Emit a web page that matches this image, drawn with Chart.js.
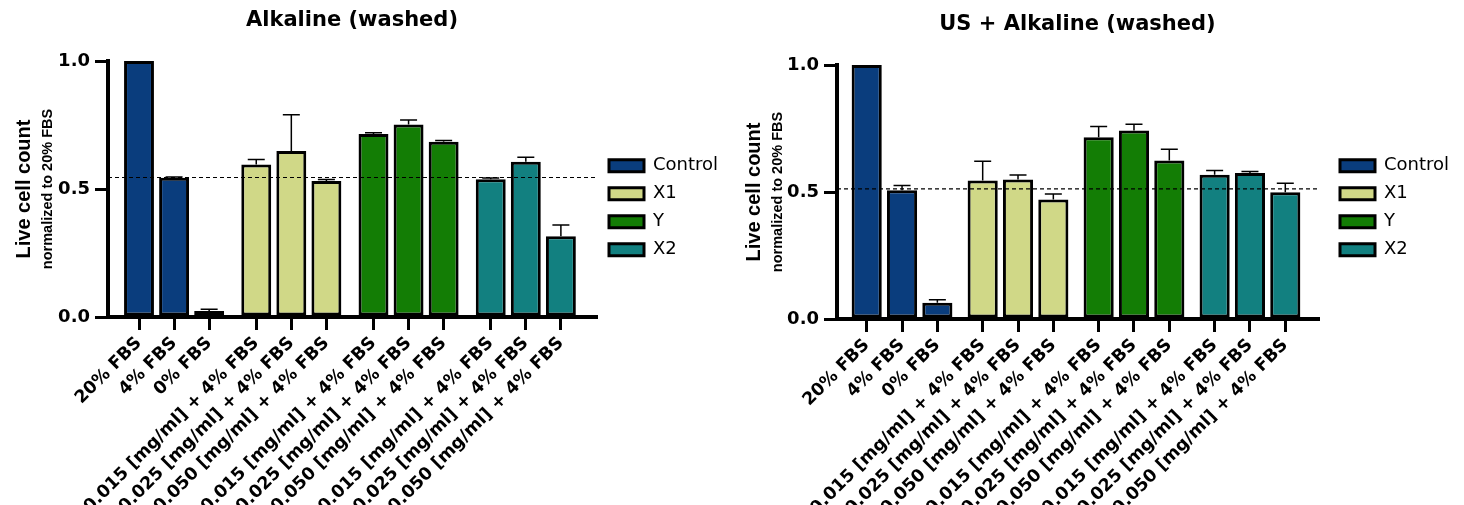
<!DOCTYPE html>
<html>
<head>
<meta charset="utf-8">
<script src="https://cdn.jsdelivr.net/npm/chart.js@4.4.1/dist/chart.umd.min.js"></script>
<style>
  html, body { margin: 0; padding: 0; background: #fff; width: 1464px; height: 505px; overflow: hidden; }
  canvas { position: absolute; top: 0; }
</style>
</head>
<body>
<canvas id="chartA" width="724" height="505" style="left:0px"></canvas>
<canvas id="chartB" width="723" height="505" style="left:732px"></canvas>
<script>
// ---------------- DATA ----------------
const categories = [
  '20% FBS', '4% FBS', '0% FBS',
  '0.015 [mg/ml] + 4% FBS', '0.025 [mg/ml] + 4% FBS', '0.050 [mg/ml] + 4% FBS',
  '0.015 [mg/ml] + 4% FBS', '0.025 [mg/ml] + 4% FBS', '0.050 [mg/ml] + 4% FBS',
  '0.015 [mg/ml] + 4% FBS', '0.025 [mg/ml] + 4% FBS', '0.050 [mg/ml] + 4% FBS'
];
const groups = ['Control', 'X1', 'Y', 'X2'];
const yTicks = [0, 0.5, 1.0];

// Chart A: Alkaline (washed)
const titleA = 'Alkaline (washed)';
const alkControl = [1.000, 0.544, 0.023];
const alkX1      = [0.596, 0.648, 0.531];
const alkY       = [0.715, 0.752, 0.685];
const alkX2      = [0.538, 0.606, 0.315];
const alkControlErr = [0.000, 0.003, 0.007];
const alkX1Err      = [0.019, 0.142, 0.006];
const alkYErr       = [0.005, 0.018, 0.004];
const alkX2Err      = [0.005, 0.018, 0.044];
const alkRef = 0.545;

// Chart B: US + Alkaline (washed)
const titleB = 'US + Alkaline (washed)';
const usControl = [1.000, 0.507, 0.064];
const usX1      = [0.545, 0.549, 0.470];
const usY       = [0.716, 0.742, 0.624];
const usX2      = [0.568, 0.575, 0.499];
const usControlErr = [0.000, 0.019, 0.012];
const usX1Err      = [0.076, 0.018, 0.022];
const usYErr       = [0.042, 0.025, 0.044];
const usX2Err      = [0.017, 0.006, 0.035];
const usRef = 0.512;

const yTitleMain = 'Live cell count';
const yTitleSub = 'normalized to 20% FBS';

// ---------------- STYLE ----------------
const COLORS = ['#0a3d7d', '#d0d887', '#137d05', '#128080'];
const DJ = "'DejaVu Sans', sans-serif";
const LIB = "'Liberation Sans', Arial, sans-serif";

const errorBarsPlugin = {
  id: 'errorBars',
  afterDatasetsDraw(chart) {
    const { ctx, scales: { x, y } } = chart;
    ctx.save();
    ctx.strokeStyle = '#000';
    ctx.lineWidth = 1.5;
    chart.data.datasets.forEach(ds => {
      ds.data.forEach((p, j) => {
        const e = ds.errValues[j];
        if (!e) return;
        const px = x.getPixelForValue(p.x);
        const y0 = y.getPixelForValue(p.y);
        const y1 = y.getPixelForValue(p.y + e);
        ctx.beginPath();
        ctx.moveTo(px, y0);
        ctx.lineTo(px, y1);
        ctx.moveTo(px - 8.5, y1);
        ctx.lineTo(px + 8.5, y1);
        ctx.stroke();
      });
    });
    ctx.restore();
  }
};

const refLinePlugin = {
  id: 'refLine',
  afterDatasetsDraw(chart, args, opts) {
    const { ctx, chartArea, scales: { y } } = chart;
    const py = y.getPixelForValue(opts.value);
    ctx.save();
    ctx.setLineDash([4, 3]);
    ctx.lineWidth = 1.2;
    ctx.strokeStyle = '#000';
    ctx.beginPath();
    ctx.moveTo(chartArea.left, py);
    ctx.lineTo(chartArea.right, py);
    ctx.stroke();
    ctx.restore();
  }
};

function makeChart(id, cfg) {
  const positions = [];
  cfg.values.forEach((vals, gi) => vals.forEach((v, i) => positions.push(gi * cfg.stride + i)));
  const datasets = groups.map((name, gi) => ({
    label: name,
    data: cfg.values[gi].map((v, i) => ({ x: gi * cfg.stride + i, y: v })),
    errValues: cfg.errors[gi],
    backgroundColor: COLORS[gi],
    borderColor: '#000',
    borderWidth: 3,
    borderSkipped: false,
    grouped: false,
    categoryPercentage: 1,
    barPercentage: 0.853
  }));

  return new Chart(document.getElementById(id), {
    type: 'bar',
    data: { datasets },
    plugins: [refLinePlugin, errorBarsPlugin],
    options: {
      responsive: false,
      animation: false,
      devicePixelRatio: 1,
      events: [],
      layout: { padding: 0 },
      plugins: {
        refLine: { value: cfg.ref },
        tooltip: { enabled: false },
        title: {
          display: true,
          text: cfg.title,
          fullSize: false,
          color: '#000',
          font: { family: DJ, size: 21, weight: 'bold', lineHeight: 1.2 },
          padding: { top: cfg.titleTop, bottom: 27.4 }
        },
        legend: {
          display: true,
          position: 'right',
          align: 'start',
          fullSize: true,
          maxWidth: 125,
          title: { display: true, text: ' ', font: { size: 12 }, padding: { top: 132.4, bottom: 0 } },
          labels: {
            boxWidth: 35,
            boxHeight: 12,
            padding: 10,
            color: '#000',
            font: { family: DJ, size: 18 }
          }
        }
      },
      scales: {
        x: {
          type: 'linear',
          offset: false,
          min: cfg.xMin,
          max: cfg.xMax,
          afterBuildTicks: s => { s.ticks = positions.map(v => ({ value: v })); },
          afterFit: s => { s.height = cfg.xAxisHeight; },
          grid: { display: true, offset: false, drawOnChartArea: false, drawTicks: true, tickLength: 13, lineWidth: 3, color: '#000' },
          border: { display: true, width: 4, color: '#000', z: 1 },
          ticks: {
            autoSkip: false,
            minRotation: 45,
            maxRotation: 45,
            padding: 3,
            color: '#000',
            font: { family: DJ, size: 17.5, weight: 'bold' },
            callback: (v, i) => categories[i]
          }
        },
        y: {
          type: 'linear',
          position: 'left',
          weight: 0,
          min: 0,
          max: 1,
          afterBuildTicks: s => { s.ticks = yTicks.map(v => ({ value: v })); },
          afterFit: s => { s.width = cfg.yAxisWidth; },
          grid: { display: true, drawOnChartArea: false, drawTicks: true, tickLength: 13, lineWidth: 3, color: '#000' },
          border: { display: true, width: 4, color: '#000', z: 1 },
          ticks: {
            padding: 5,
            color: '#000',
            font: { family: DJ, size: 18, weight: 'bold' },
            callback: v => v.toFixed(1)
          },
          title: {
            display: true,
            text: yTitleSub,
            color: '#000',
            font: { family: LIB, size: 14.5, weight: 'bold', lineHeight: 1.2 },
            padding: { top: cfg.subTitlePad, bottom: 0 }
          }
        },
        yOuter: {
          type: 'linear',
          position: 'left',
          weight: 1,
          display: true,
          min: 0,
          max: 1,
          afterFit: s => { s.width = 35; },
          grid: { display: false },
          border: { display: false },
          ticks: { display: false },
          title: {
            display: true,
            text: yTitleMain,
            color: '#000',
            font: { family: LIB, size: 20, weight: 'bold', lineHeight: 1.2 },
            padding: { top: cfg.mainTitlePad, bottom: 0 }
          }
        },
        gap: {
          type: 'linear',
          position: 'right',
          weight: 0,
          display: true,
          min: 0,
          max: 1,
          afterFit: s => { s.width = cfg.rightGap; },
          grid: { display: false },
          border: { display: false },
          ticks: { display: false }
        }
      }
    }
  });
}

makeChart('chartA', {
  title: titleA,
  values: [alkControl, alkX1, alkY, alkX2],
  errors: [alkControlErr, alkX1Err, alkYErr, alkX2Err],
  ref: alkRef,
  stride: 3.343,
  xMin: -0.884,
  xMax: 13.03,
  titleTop: 8.4,
  xAxisHeight: 188,
  yAxisWidth: 73,
  subTitlePad: 4,
  mainTitlePad: 12,
  rightGap: 3
});

makeChart('chartB', {
  title: titleB,
  values: [usControl, usX1, usY, usX2],
  errors: [usControlErr, usX1Err, usYErr, usX2Err],
  ref: usRef,
  stride: 3.283,
  xMin: -0.841,
  xMax: 12.775,
  titleTop: 12.4,
  xAxisHeight: 186,
  yAxisWidth: 70,
  subTitlePad: 2.3,
  mainTitlePad: 10,
  rightGap: 12
});
</script>
</body>
</html>
